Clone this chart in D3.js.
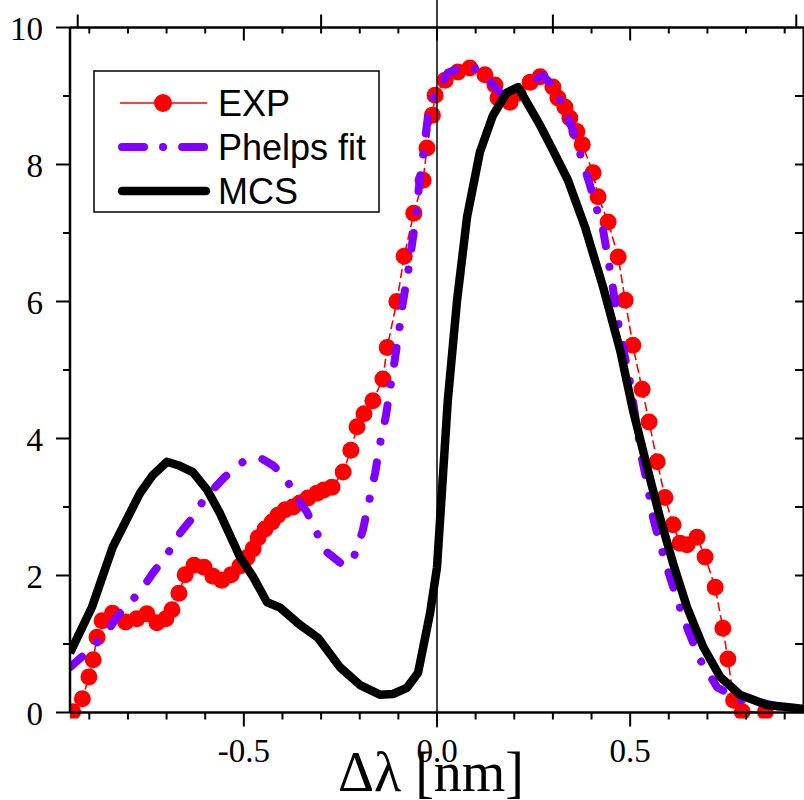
<!DOCTYPE html>
<html>
<head>
<meta charset="utf-8">
<script src="https://cdn.jsdelivr.net/npm/d3@7"></script>
<style>
  body { margin: 0; background: #fff; }
  svg { display: block; }
</style>
</head>
<body>
<svg id="chart" width="804" height="800"></svg>
<script>
// EXP points (red circles)
const expX = [-0.943,-0.918,-0.901,-0.890,-0.880,-0.867,-0.840,-0.806,-0.777,-0.751,-0.725,-0.702,-0.686,-0.668,-0.652,-0.629,-0.603,-0.580,-0.557,-0.533,-0.510,-0.492,-0.476,-0.463,-0.445,-0.427,-0.412,-0.393,-0.373,-0.355,-0.334,-0.311,-0.293,-0.272,-0.243,-0.223,-0.207,-0.189,-0.166,-0.140,-0.129,-0.104,-0.085,-0.060,-0.036,-0.026,-0.012,-0.005,0.021,0.054,0.085,0.124,0.150,0.158,0.189,0.210,0.241,0.267,0.300,0.313,0.331,0.344,0.362,0.376,0.404,0.417,0.443,0.469,0.487,0.507,0.531,0.549,0.570,0.590,0.611,0.629,0.647,0.673,0.694,0.720,0.740,0.753,0.768,0.79,0.85];
const expY = [0.01,0.20,0.52,0.77,1.10,1.34,1.45,1.32,1.37,1.44,1.31,1.37,1.50,1.74,2.01,2.15,2.12,1.99,1.93,2.01,2.14,2.26,2.39,2.55,2.68,2.78,2.88,2.96,3.00,3.06,3.13,3.20,3.25,3.29,3.51,3.83,4.17,4.36,4.55,4.87,5.33,6.00,6.66,7.29,7.77,8.24,8.72,9.01,9.23,9.35,9.41,9.31,9.16,8.97,8.91,9.04,9.20,9.28,9.13,8.97,8.84,8.68,8.48,8.29,7.88,7.53,7.16,6.65,6.02,5.36,4.72,4.24,3.66,3.14,2.74,2.47,2.45,2.56,2.27,1.83,1.23,0.78,0.18,0.01,0.01];

// Phelps fit (violet dash-dot)
const phelpsX = [-0.950,-0.890,-0.852,-0.821,-0.769,-0.735,-0.699,-0.665,-0.632,-0.601,-0.549,-0.502,-0.458,-0.425,-0.393,-0.368,-0.337,-0.311,-0.285,-0.243,-0.220,-0.207,-0.192,-0.179,-0.160,-0.148,-0.132,-0.122,-0.109,-0.098,-0.088,-0.075,-0.065,-0.054,-0.047,-0.020,0.028,0.078,0.106,0.137,0.176,0.210,0.241,0.274,0.305,0.326,0.352,0.365,0.378,0.396,0.409,0.430,0.453,0.466,0.481,0.500,0.518,0.531,0.546,0.559,0.577,0.595,0.624,0.650,0.681,0.725,0.784,0.844,0.888,0.950];
const phelpsY = [0.66,0.96,1.20,1.45,1.76,2.04,2.30,2.62,2.85,3.13,3.44,3.66,3.72,3.61,3.44,3.17,2.93,2.62,2.34,2.15,2.20,2.40,2.66,3.00,3.50,3.91,4.34,4.71,5.16,5.58,6.00,6.42,6.82,7.26,7.66,8.85,9.34,9.45,9.38,9.21,8.98,9.07,9.20,9.30,9.12,8.84,8.50,8.26,8.02,7.70,7.44,7.04,6.29,5.77,5.34,4.81,4.15,3.69,3.29,2.85,2.47,2.12,1.61,1.20,0.77,0.37,0.18,0.14,0.08,0.04];

// MCS (black solid)
const mcsX = [-0.950,-0.893,-0.839,-0.769,-0.735,-0.699,-0.670,-0.632,-0.595,-0.562,-0.510,-0.476,-0.440,-0.406,-0.355,-0.308,-0.251,-0.199,-0.148,-0.114,-0.078,-0.049,-0.018,0.000,0.013,0.028,0.052,0.078,0.111,0.145,0.181,0.210,0.267,0.300,0.339,0.383,0.430,0.474,0.507,0.544,0.577,0.611,0.647,0.689,0.733,0.784,0.854,0.922,0.950];
const mcsY = [0.87,1.54,2.42,3.20,3.47,3.66,3.61,3.51,3.25,2.91,2.27,1.98,1.61,1.53,1.28,1.09,0.66,0.40,0.26,0.27,0.36,0.58,1.45,2.12,3.25,4.56,6.02,7.24,8.18,8.72,9.05,9.13,8.57,8.21,7.77,7.09,6.21,5.29,4.42,3.58,2.85,2.18,1.54,0.96,0.52,0.26,0.11,0.07,0.05];

const xTickLabels = [-0.5, 0.0, 0.5];
const yTickLabels = [0, 2, 4, 6, 8, 10];
const topUpTicks = [-0.93, -0.3, 0.3, 0.93];

const svg = d3.select('#chart');
const padL = 70, padR = 804, padT = 27.5, padB = 712.5;

const x = d3.scaleLinear().domain([-0.95, 0.95]).range([padL, padR]);
const y = d3.scaleLinear().domain([0, 10]).range([padB, padT]);

const violet = '#7f00ff';

svg.append('defs').append('clipPath').attr('id', 'plot')
  .append('rect').attr('x', padL).attr('y', 0).attr('width', padR - padL).attr('height', padB + 6);

const plot = svg.append('g').attr('clip-path', 'url(#plot)');

// EXP: thin red line with circles
const expPts = expX.map((d, i) => [d, expY[i]]);
plot.append('path')
  .datum(expPts)
  .attr('fill', 'none')
  .attr('stroke', 'red')
  .attr('stroke-width', 1.6)
  .attr('stroke-dasharray', '9,4')
  .attr('d', d3.line().x(d => x(d[0])).y(d => y(d[1])));

plot.selectAll('circle.exp')
  .data(expPts)
  .enter()
  .append('circle')
  .attr('class', 'exp')
  .attr('cx', d => x(d[0]))
  .attr('cy', d => y(d[1]))
  .attr('r', 8.5)
  .attr('fill', 'red');

// Phelps fit
plot.append('path')
  .datum(phelpsX.map((d, i) => [d, phelpsY[i]]))
  .attr('fill', 'none')
  .attr('stroke', violet)
  .attr('stroke-width', 8)
  .attr('stroke-linecap', 'round')
  .attr('stroke-linejoin', 'round')
  .attr('stroke-dasharray', '16,21,0.1,21')
  .attr('d', d3.line().x(d => x(d[0])).y(d => y(d[1])));

// MCS
plot.append('path')
  .datum(mcsX.map((d, i) => [d, mcsY[i]]))
  .attr('fill', 'none')
  .attr('stroke', 'black')
  .attr('stroke-width', 8.5)
  .attr('stroke-linejoin', 'round')
  .attr('d', d3.line().x(d => x(d[0])).y(d => y(d[1])));

// vertical line at zero
svg.append('line')
  .attr('x1', x(0)).attr('x2', x(0))
  .attr('y1', 0).attr('y2', padB + 15)
  .attr('stroke', 'black').attr('stroke-width', 1.5);

// axes frame
const minorX = d3.range(-9, 10).map(d => d / 10);
const isMajorX = v => Math.abs(Math.round(v * 10) % 5) === 0;

const axes = svg.append('g').attr('stroke', 'black');
axes.append('line').attr('x1', padL).attr('x2', padR).attr('y1', padB).attr('y2', padB).attr('stroke-width', 2.5);
axes.append('line').attr('x1', padL).attr('x2', padR).attr('y1', padT).attr('y2', padT).attr('stroke-width', 2.5);
axes.append('line').attr('x1', padL).attr('x2', padL).attr('y1', padT).attr('y2', padB).attr('stroke-width', 2.5);
axes.append('line').attr('x1', padR - 0.5).attr('x2', padR - 0.5).attr('y1', padT).attr('y2', padB).attr('stroke-width', 2);

// bottom ticks (outward)
axes.selectAll('line.bt').data(minorX).enter().append('line')
  .attr('x1', d => x(d)).attr('x2', d => x(d))
  .attr('y1', padB).attr('y2', d => padB + (isMajorX(d) ? 14 : 7))
  .attr('stroke-width', 2);
// top ticks (inward)
axes.selectAll('line.tt').data(minorX).enter().append('line')
  .attr('x1', d => x(d)).attr('x2', d => x(d))
  .attr('y1', padT).attr('y2', d => padT + (isMajorX(d) ? 13 : 6))
  .attr('stroke-width', 2);
axes.selectAll('line.tu').data(topUpTicks).enter().append('line')
  .attr('x1', d => x(d)).attr('x2', d => x(d))
  .attr('y1', padT).attr('y2', padT - 13)
  .attr('stroke-width', 2);

// left ticks (outward) and right ticks (inward)
const yMinor = d3.range(0, 11);
axes.selectAll('line.lt').data(yMinor).enter().append('line')
  .attr('x1', padL).attr('x2', d => padL - (d % 2 === 0 ? 14 : 7))
  .attr('y1', d => y(d)).attr('y2', d => y(d))
  .attr('stroke-width', 2);
axes.selectAll('line.rt').data(yMinor.slice(1, 10)).enter().append('line')
  .attr('x1', padR).attr('x2', padR - 9)
  .attr('y1', d => y(d)).attr('y2', d => y(d))
  .attr('stroke-width', 2);

// tick labels
const serif = '"Liberation Serif", "Times New Roman", serif';
svg.selectAll('text.yl').data(yTickLabels).enter().append('text')
  .attr('x', 43).attr('y', d => y(d) + 12)
  .attr('text-anchor', 'end')
  .style('font-family', serif).style('font-size', '33px')
  .text(d => d);

svg.selectAll('text.xl').data(xTickLabels).enter().append('text')
  .attr('x', d => x(d)).attr('y', 762)
  .attr('text-anchor', 'middle')
  .style('font-family', serif).style('font-size', '33px')
  .text(d => d.toFixed(1));

svg.append('text')
  .attr('x', 431).attr('y', 791)
  .attr('text-anchor', 'middle')
  .style('font-family', serif).style('font-size', '56px')
  .text('Δλ [nm]');

// legend
const legend = svg.append('g');
legend.append('rect')
  .attr('x', 94).attr('y', 71).attr('width', 285).attr('height', 141)
  .attr('fill', 'white').attr('stroke', 'black').attr('stroke-width', 1.5);

const sans = '"Liberation Sans", Arial, sans-serif';
const legendItems = ['EXP', 'Phelps fit', 'MCS'];
const legendY = [103, 147, 191];

legend.append('line').attr('x1', 120).attr('x2', 207).attr('y1', legendY[0]).attr('y2', legendY[0])
  .attr('stroke', 'red').attr('stroke-width', 1.6);
legend.append('circle').attr('cx', 163).attr('cy', legendY[0]).attr('r', 9).attr('fill', 'red');
legend.append('line').attr('x1', 122).attr('x2', 205).attr('y1', legendY[1]).attr('y2', legendY[1])
  .attr('stroke', violet).attr('stroke-width', 8).attr('stroke-linecap', 'round')
  .attr('stroke-dasharray', '22,19,0.1,19');
legend.append('line').attr('x1', 122).attr('x2', 206).attr('y1', legendY[2]).attr('y2', legendY[2])
  .attr('stroke', 'black').attr('stroke-width', 8.5).attr('stroke-linecap', 'round');

legend.selectAll('text').data(legendItems).enter().append('text')
  .attr('x', 218).attr('y', (d, i) => legendY[i] + 12.5)
  .style('font-family', sans).style('font-size', '36px')
  .text(d => d);
</script>
</body>
</html>
